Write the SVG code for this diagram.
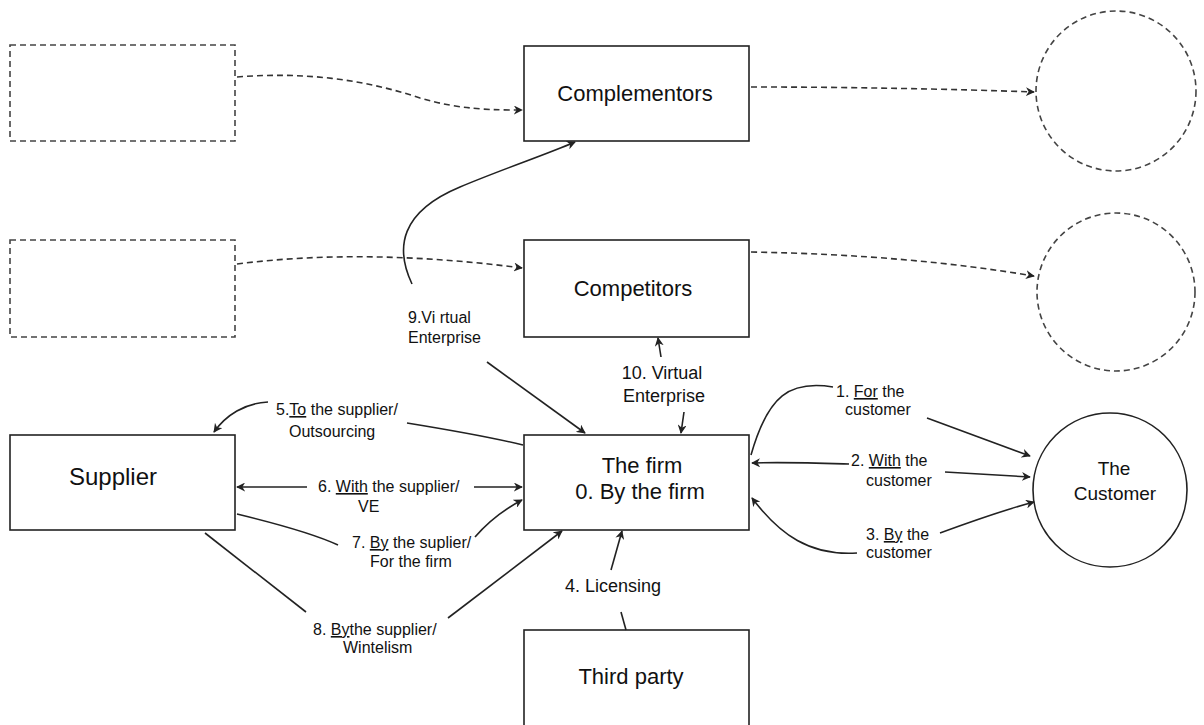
<svg xmlns="http://www.w3.org/2000/svg" width="1204" height="725" viewBox="0 0 1204 725">
<style>
.box{fill:#fff;stroke:#222;stroke-width:1.6}
.dbox{fill:none;stroke:#444;stroke-width:1.6;stroke-dasharray:6,4}
.node{font-family:"Liberation Sans",Arial,sans-serif;font-size:22px;fill:#111;text-anchor:middle}
.lbl{font-family:"Liberation Sans",Arial,sans-serif;font-size:16px;fill:#111}
.big{font-size:18px}
.e{fill:none;stroke:#222;stroke-width:1.6}
.d{fill:none;stroke:#333;stroke-width:1.6;stroke-dasharray:6,4}
.u{text-decoration:underline}
</style>
<defs>
<marker id="ah" viewBox="0 0 10 10" refX="9" refY="5" markerWidth="9" markerHeight="9" markerUnits="userSpaceOnUse" orient="auto">
<path d="M0,0 L10,5 L0,10 L3,5 z" fill="#222"/>
</marker>
</defs>
<rect width="1204" height="725" fill="#fff"/>

<g id="placeholder-rect-1"><rect class="dbox" x="10" y="45" width="225" height="96"/></g>
<g id="placeholder-rect-2"><rect class="dbox" x="10" y="240" width="225" height="97"/></g>
<g id="placeholder-circle-1"><circle class="dbox" cx="1116" cy="91" r="80"/></g>
<g id="placeholder-circle-2"><circle class="dbox" cx="1116" cy="292" r="79"/></g>

<g id="complementors"><rect class="box" x="524" y="46" width="225" height="95"/><text class="node" x="635" y="101">Complementors</text></g>
<g id="competitors"><rect class="box" x="524" y="240" width="225" height="97"/><text class="node" x="633" y="296">Competitors</text></g>
<g id="firm"><rect class="box" x="524" y="435" width="225" height="95"/><text class="node" x="642" y="473">The firm</text><text class="node" x="640" y="499">0. By the firm</text></g>
<g id="supplier"><rect class="box" x="10" y="435" width="225" height="95"/><text class="node" x="113" y="485" style="font-size:24px">Supplier</text></g>
<g id="third-party"><rect class="box" x="524" y="630" width="225" height="100"/><text class="node" x="631" y="684">Third party</text></g>
<g id="customer"><circle class="box" cx="1110" cy="490" r="77"/><text class="node" x="1114" y="475" style="font-size:19px">The</text><text class="node" x="1115" y="500" style="font-size:19px">Customer</text></g>

<g id="connectors">
<path class="d" d="M237,77 C300,72 360,78 420,98 C460,110 495,110 522,110" marker-end="url(#ah)"/>
<path class="d" d="M751,87 C850,87 950,89 1034,92" marker-end="url(#ah)"/>
<path class="d" d="M237,264 C330,252 430,256 522,268" marker-end="url(#ah)"/>
<path class="d" d="M751,252 C860,254 950,262 1034,276" marker-end="url(#ah)"/>

<path class="e" d="M412,284 C395,248 400,212 460,187 C500,170 545,155 575,142" marker-end="url(#ah)"/>
<path class="e" d="M487,362 L585,433" marker-end="url(#ah)"/>
<path class="e" d="M661,357 L658,338" marker-end="url(#ah)"/>
<path class="e" d="M684,412 L681,433" marker-end="url(#ah)"/>

<path class="e" d="M268,402 C245,403 226,415 214,432" marker-end="url(#ah)"/>
<path class="e" d="M407,423 C450,430 490,437 523,445"/>
<path class="e" d="M307,487 L237,487" marker-end="url(#ah)"/>
<path class="e" d="M474,487 L522,487" marker-end="url(#ah)"/>
<path class="e" d="M237,514 C270,522 310,532 338,545"/>
<path class="e" d="M475,537 C488,522 503,510 522,500" marker-end="url(#ah)"/>
<path class="e" d="M205,533 L306,612"/>
<path class="e" d="M448,618 L562,531" marker-end="url(#ah)"/>
<path class="e" d="M611,570 L622,531" marker-end="url(#ah)"/>
<path class="e" d="M621,612 L626,630"/>

<path class="e" d="M833,387 C790,380 768,395 751,455"/>
<path class="e" d="M927,418 L1030,456" marker-end="url(#ah)"/>
<path class="e" d="M849,464 C815,463 785,462 752,463" marker-end="url(#ah)"/>
<path class="e" d="M945,472 L1030,477" marker-end="url(#ah)"/>
<path class="e" d="M940,533 C970,522 1000,511 1034,502" marker-end="url(#ah)"/>
<path class="e" d="M857,553 C810,556 780,535 752,498" marker-end="url(#ah)"/>
</g>

<g id="labels">
<text class="lbl" x="408" y="323">9.Vi rtual</text>
<text class="lbl" x="408" y="343">Enterprise</text>
<text class="lbl big" x="662" y="379" text-anchor="middle">10. Virtual</text>
<text class="lbl big" x="664" y="402" text-anchor="middle">Enterprise</text>
<text class="lbl" x="276" y="415">5.<tspan class="u">To</tspan> the supplier/</text>
<text class="lbl" x="289" y="437">Outsourcing</text>
<text class="lbl" x="318" y="492">6. <tspan class="u">With</tspan> the supplier/</text>
<text class="lbl" x="358" y="512">VE</text>
<text class="lbl" x="352" y="548">7. <tspan class="u">By</tspan> the suplier/</text>
<text class="lbl" x="370" y="567">For the firm</text>
<text class="lbl" x="313" y="635">8.  <tspan class="u">By</tspan>the supplier/</text>
<text class="lbl" x="343" y="653">Wintelism</text>
<text class="lbl big" x="565" y="592">4. Licensing</text>
<text class="lbl" x="836" y="397">1. <tspan class="u">For</tspan> the</text>
<text class="lbl" x="845" y="415">customer</text>
<text class="lbl" x="851" y="466">2. <tspan class="u">With</tspan> the</text>
<text class="lbl" x="866" y="486">customer</text>
<text class="lbl" x="866" y="540">3. <tspan class="u">By</tspan> the</text>
<text class="lbl" x="866" y="558">customer</text>
</g>
</svg>
